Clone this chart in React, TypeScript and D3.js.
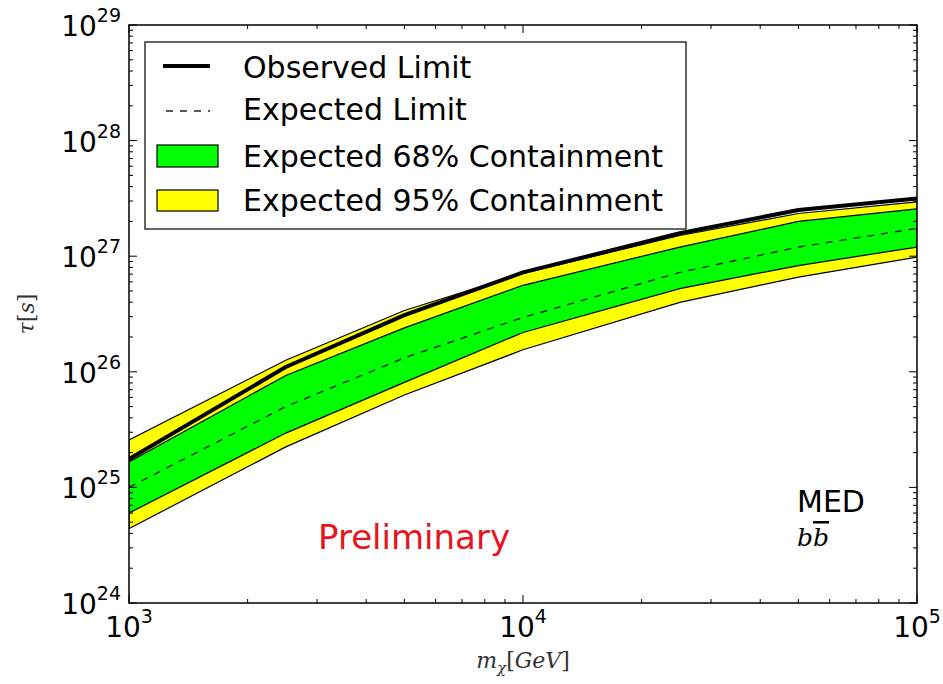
import React from "react";
import * as d3 from "d3";

// Dark matter mass points (GeV)
const masses = [1000, 2500, 5000, 10000, 25000, 50000, 100000];
// Lifetime limits (s)
const observed = [1.76e25, 1.10e26, 3.09e26, 7.24e26, 1.58e27, 2.51e27, 3.16e27];
const expected = [1.0e25, 5.0e25, 1.32e26, 2.95e26, 7.24e26, 1.2e27, 1.74e27];
const band68Low = [6.0e24, 2.95e25, 8.1e25, 2.19e26, 5.25e26, 8.3e26, 1.2e27];
const band68High = [1.66e25, 9.3e25, 2.4e26, 5.6e26, 1.2e27, 2.0e27, 2.57e27];
const band95Low = [4.4e24, 2.24e25, 6.3e25, 1.55e26, 3.98e26, 6.6e26, 9.8e26];
const band95High = [2.57e25, 1.26e26, 3.39e26, 7.1e26, 1.51e27, 2.34e27, 2.95e27];

const xDecades = [3, 4, 5];
const yDecades = [24, 25, 26, 27, 28, 29];
const legendLabels = [
  "Observed Limit",
  "Expected Limit",
  "Expected 68% Containment",
  "Expected 95% Containment",
];

const W = 943;
const H = 684;
const left = 129;
const right = 917;
const top = 25;
const bottom = 603;
const FONT = "DejaVu Sans, sans-serif";

export default function App() {
  const x = d3.scaleLog().domain([1e3, 1e5]).range([left, right]);
  const y = d3.scaleLog().domain([1e24, 1e29]).range([bottom, top]);

  const area = (lo: number[], hi: number[]) =>
    d3
      .area<number>()
      .x((_, i) => x(masses[i]))
      .y0((_, i) => y(lo[i]))
      .y1((_, i) => y(hi[i]))(masses) as string;

  const line = (vals: number[]) =>
    d3
      .line<number>()
      .x((_, i) => x(masses[i]))
      .y((_, i) => y(vals[i]))(masses) as string;

  const xMinor: number[] = [];
  for (const d of [3, 4]) for (let k = 2; k <= 9; k++) xMinor.push(k * Math.pow(10, d));
  const yMinor: number[] = [];
  for (const d of [24, 25, 26, 27, 28]) for (let k = 2; k <= 9; k++) yMinor.push(k * Math.pow(10, d));

  const MAJ = 8;
  const MIN = 4;

  return (
    <svg
      width={W}
      height={H}
      style={{ position: "absolute", left: 0, top: 0, background: "#fff" }}
      fontFamily={FONT}
    >
      <rect x={0} y={0} width={W} height={H} fill="#fff" />
      <defs>
        <clipPath id="plotclip">
          <rect x={left} y={top} width={right - left} height={bottom - top} />
        </clipPath>
      </defs>

      <g clipPath="url(#plotclip)">
        <path d={area(band95Low, band95High)} fill="#ffff00" stroke="#000" strokeWidth={1.2} />
        <path d={area(band68Low, band68High)} fill="#00ff00" stroke="#000" strokeWidth={1.2} />
        <path d={line(expected)} fill="none" stroke="#222" strokeWidth={1.4} strokeDasharray="7,7" />
        <path d={line(observed)} fill="none" stroke="#000" strokeWidth={4} strokeLinejoin="round" />
      </g>

      {/* ticks on all four sides, pointing inward */}
      <g stroke="#000" strokeWidth={1}>
        {xDecades.map((d) => {
          const px = x(Math.pow(10, d));
          return (
            <g key={"xM" + d}>
              <line x1={px} x2={px} y1={bottom} y2={bottom - MAJ} />
              <line x1={px} x2={px} y1={top} y2={top + MAJ} />
            </g>
          );
        })}
        {xMinor.map((v) => {
          const px = x(v);
          return (
            <g key={"xm" + v}>
              <line x1={px} x2={px} y1={bottom} y2={bottom - MIN} />
              <line x1={px} x2={px} y1={top} y2={top + MIN} />
            </g>
          );
        })}
        {yDecades.map((d) => {
          const py = y(Math.pow(10, d));
          return (
            <g key={"yM" + d}>
              <line x1={left} x2={left + MAJ} y1={py} y2={py} />
              <line x1={right} x2={right - MAJ} y1={py} y2={py} />
            </g>
          );
        })}
        {yMinor.map((v) => {
          const py = y(v);
          return (
            <g key={"ym" + v}>
              <line x1={left} x2={left + MIN} y1={py} y2={py} />
              <line x1={right} x2={right - MIN} y1={py} y2={py} />
            </g>
          );
        })}
      </g>

      <rect
        x={left}
        y={top}
        width={right - left}
        height={bottom - top}
        fill="none"
        stroke="#000"
        strokeWidth={1.5}
      />

      {/* tick labels */}
      {xDecades.map((d) => (
        <text key={"xl" + d} x={x(Math.pow(10, d))} y={637} textAnchor="middle" fontSize={28} fill="#000">
          10
          <tspan dy={-14} fontSize={19}>
            {d}
          </tspan>
        </text>
      ))}
      {yDecades.map((d) => (
        <text key={"yl" + d} x={121} y={y(Math.pow(10, d)) + 11} textAnchor="end" fontSize={28} fill="#000">
          10
          <tspan dy={-14} fontSize={19}>
            {d}
          </tspan>
        </text>
      ))}

      {/* axis titles */}
      <text
        x={523}
        y={668}
        textAnchor="middle"
        fontSize={22}
        fontFamily="DejaVu Serif, serif"
        fill="#333"
      >
        <tspan fontStyle="italic">m</tspan>
        <tspan fontStyle="italic" fontSize={15} dy={5}>χ</tspan>
        <tspan dy={-5}>[</tspan>
        <tspan fontStyle="italic">GeV</tspan>
        <tspan>]</tspan>
      </text>
      <text
        transform={`translate(34, ${(top + bottom) / 2}) rotate(-90)`}
        textAnchor="middle"
        fontSize={22}
        fontFamily="DejaVu Serif, serif"
        fill="#333"
      >
        <tspan fontStyle="italic">τ</tspan>
        <tspan>[</tspan>
        <tspan fontStyle="italic">s</tspan>
        <tspan>]</tspan>
      </text>

      {/* annotations */}
      <text x={414} y={549} textAnchor="middle" fontSize={34} fill="#e8141c">
        Preliminary
      </text>
      <text x={797} y={512} fontSize={30} fill="#000">
        MED
      </text>
      <text x={797} y={546} fontSize={25} fontFamily="DejaVu Serif, serif" fontStyle="italic" fill="#000">
        b
        <tspan textDecoration="overline">b</tspan>
      </text>

      {/* legend */}
      <g>
        <rect x={145} y={42} width={541} height={187} fill="#fff" stroke="#000" strokeWidth={1.2} />
        <line x1={163} x2={210} y1={66} y2={66} stroke="#000" strokeWidth={4} />
        <line x1={166} x2={210} y1={111} y2={111} stroke="#222" strokeWidth={1.4} strokeDasharray="7,7" />
        <rect x={157} y={145} width={61} height={22} fill="#00ff00" stroke="#000" strokeWidth={1.2} />
        <rect x={157} y={190} width={61} height={21} fill="#ffff00" stroke="#000" strokeWidth={1.2} />
        {legendLabels.map((t, i) => (
          <text key={t} x={243} y={[78, 120, 167, 211][i]} fontSize={30} fill="#000">
            {t}
          </text>
        ))}
      </g>
    </svg>
  );
}
